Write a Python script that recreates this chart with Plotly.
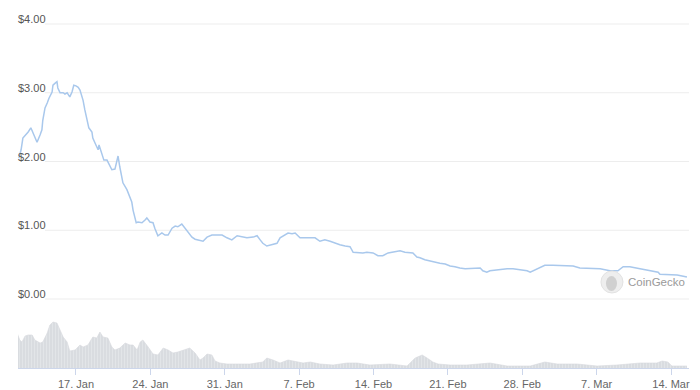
import plotly.graph_objects as go

price_dates = [
    "2022-01-11 15:00", "2022-01-11 20:00", "2022-01-12 00:00", "2022-01-12 07:00", "2022-01-12 12:00",
    "2022-01-12 18:00", "2022-01-12 23:00", "2022-01-13 08:00", "2022-01-13 15:00", "2022-01-13 19:00",
    "2022-01-13 21:00", "2022-01-14 02:00", "2022-01-14 07:00", "2022-01-14 11:00", "2022-01-14 18:00",
    "2022-01-14 20:00", "2022-01-15 01:00", "2022-01-15 05:00", "2022-01-15 07:00", "2022-01-15 12:00",
    "2022-01-15 19:00", "2022-01-15 23:00", "2022-01-16 04:00", "2022-01-16 10:00", "2022-01-16 15:00",
    "2022-01-16 19:00", "2022-01-17 00:00", "2022-01-17 05:00", "2022-01-17 09:00", "2022-01-17 16:00",
    "2022-01-17 20:00", "2022-01-18 01:00", "2022-01-18 05:00", "2022-01-18 12:00", "2022-01-18 14:00",
    "2022-01-18 21:00", "2022-01-19 02:00", "2022-01-19 04:00", "2022-01-19 11:00", "2022-01-19 15:00",
    "2022-01-19 22:00", "2022-01-20 03:00", "2022-01-20 09:00", "2022-01-20 16:00", "2022-01-20 21:00",
    "2022-01-20 23:00", "2022-01-21 03:00", "2022-01-21 08:00", "2022-01-21 10:00", "2022-01-21 19:00",
    "2022-01-22 02:00", "2022-01-22 06:00", "2022-01-22 09:00", "2022-01-22 13:00", "2022-01-22 16:00",
    "2022-01-22 20:00", "2022-01-23 05:00", "2022-01-23 12:00", "2022-01-23 16:00", "2022-01-23 23:00",
    "2022-01-24 06:00", "2022-01-24 10:00", "2022-01-24 17:00", "2022-01-25 02:00", "2022-01-25 09:00",
    "2022-01-25 16:00", "2022-01-26 01:00", "2022-01-26 08:00", "2022-01-26 14:00", "2022-01-26 23:00",
    "2022-01-27 06:00", "2022-01-27 13:00", "2022-01-27 22:00", "2022-01-28 05:00", "2022-01-28 12:00",
    "2022-01-28 23:00", "2022-01-29 08:00", "2022-01-29 19:00", "2022-01-30 07:00", "2022-01-30 18:00",
    "2022-01-31 05:00", "2022-01-31 16:00", "2022-02-01 04:00", "2022-02-01 15:00", "2022-02-02 02:00",
    "2022-02-02 16:00", "2022-02-03 01:00", "2022-02-03 08:00", "2022-02-03 14:00", "2022-02-03 23:00",
    "2022-02-04 11:00", "2022-02-04 22:00", "2022-02-05 05:00", "2022-02-05 16:00", "2022-02-05 23:00",
    "2022-02-06 08:00", "2022-02-06 15:00", "2022-02-07 02:00", "2022-02-07 13:00", "2022-02-08 01:00",
    "2022-02-08 12:00", "2022-02-08 23:00", "2022-02-09 10:00", "2022-02-09 22:00", "2022-02-10 09:00",
    "2022-02-10 20:00", "2022-02-11 08:00", "2022-02-11 19:00", "2022-02-12 02:00", "2022-02-12 13:00",
    "2022-02-13 00:00", "2022-02-13 09:00", "2022-02-13 23:00", "2022-02-14 10:00", "2022-02-14 21:00",
    "2022-02-15 09:00", "2022-02-15 20:00", "2022-02-16 12:00", "2022-02-16 23:00", "2022-02-17 10:00",
    "2022-02-17 17:00", "2022-02-18 02:00", "2022-02-18 09:00", "2022-02-18 20:00", "2022-02-19 08:00",
    "2022-02-19 19:00", "2022-02-20 06:00", "2022-02-20 18:00", "2022-02-21 05:00", "2022-02-21 16:00",
    "2022-02-22 03:00", "2022-02-22 15:00", "2022-02-23 02:00", "2022-02-23 13:00", "2022-02-24 01:00",
    "2022-02-24 07:00", "2022-02-24 16:00", "2022-02-24 23:00", "2022-02-25 10:00", "2022-02-25 22:00",
    "2022-02-26 14:00", "2022-02-27 03:00", "2022-02-27 19:00", "2022-02-28 11:00", "2022-02-28 18:00",
    "2022-03-01 09:00", "2022-03-02 03:00", "2022-03-02 21:00", "2022-03-03 20:00", "2022-03-04 19:00",
    "2022-03-05 10:00", "2022-03-06 09:00", "2022-03-07 08:00", "2022-03-08 06:00", "2022-03-09 00:00",
    "2022-03-09 12:00", "2022-03-10 03:00", "2022-03-11 02:00", "2022-03-12 01:00", "2022-03-12 19:00",
    "2022-03-12 23:00", "2022-03-13 15:00", "2022-03-14 14:00", "2022-03-15 12:00",
]
price_values = [
    2.05, 2.17, 2.34, 2.39, 2.43,
    2.49, 2.41, 2.28, 2.39, 2.46,
    2.60, 2.78, 2.85, 2.92, 3.01,
    3.11, 3.14, 3.16, 3.07, 3.00,
    3.00, 2.98, 3.00, 2.94, 3.01,
    3.11, 3.10, 3.08, 3.04, 2.89,
    2.75, 2.60, 2.49, 2.43, 2.34,
    2.24, 2.17, 2.24, 2.12, 2.02,
    2.02, 1.95, 1.88, 1.89, 2.05,
    2.08, 1.92, 1.76, 1.69, 1.59,
    1.48, 1.41, 1.29, 1.18, 1.11,
    1.12, 1.11, 1.15, 1.18, 1.12,
    1.11, 1.03, 0.92, 0.96, 0.93,
    0.93, 1.03, 1.06, 1.05, 1.09,
    1.03, 0.96, 0.90, 0.87, 0.86,
    0.84, 0.90, 0.93, 0.93, 0.93,
    0.89, 0.86, 0.92, 0.90, 0.89,
    0.90, 0.92, 0.86, 0.81, 0.77,
    0.79, 0.81, 0.89, 0.93, 0.96,
    0.95, 0.96, 0.89, 0.89, 0.90,
    0.89, 0.84, 0.86, 0.84, 0.81,
    0.79, 0.77, 0.76, 0.68, 0.67,
    0.67, 0.68, 0.67, 0.63, 0.63,
    0.67, 0.68, 0.70, 0.68, 0.68,
    0.67, 0.61, 0.60, 0.57, 0.55,
    0.54, 0.52, 0.51, 0.48, 0.47,
    0.45, 0.44, 0.44, 0.45, 0.45,
    0.41, 0.39, 0.41, 0.42, 0.42,
    0.44, 0.44, 0.42, 0.41, 0.39,
    0.44, 0.49, 0.49, 0.48, 0.48,
    0.45, 0.45, 0.44, 0.41, 0.41,
    0.47, 0.47, 0.44, 0.41, 0.39,
    0.36, 0.36, 0.35, 0.32,
]

volume_dates = [
    "2022-01-11 11:00", "2022-01-11 17:00", "2022-01-11 22:00", "2022-01-12 05:00", "2022-01-12 12:00",
    "2022-01-12 21:00", "2022-01-13 03:00", "2022-01-13 15:00", "2022-01-13 21:00", "2022-01-14 07:00",
    "2022-01-14 13:00", "2022-01-14 20:00", "2022-01-15 05:00", "2022-01-15 12:00", "2022-01-15 19:00",
    "2022-01-16 04:00", "2022-01-16 10:00", "2022-01-16 22:00", "2022-01-17 09:00", "2022-01-17 16:00",
    "2022-01-18 03:00", "2022-01-18 14:00", "2022-01-18 23:00", "2022-01-19 06:00", "2022-01-19 13:00",
    "2022-01-20 00:00", "2022-01-20 09:00", "2022-01-20 16:00", "2022-01-21 03:00", "2022-01-21 15:00",
    "2022-01-22 02:00", "2022-01-22 09:00", "2022-01-22 18:00", "2022-01-23 01:00", "2022-01-23 07:00",
    "2022-01-23 19:00", "2022-01-24 06:00", "2022-01-24 17:00", "2022-01-25 05:00", "2022-01-25 16:00",
    "2022-01-26 03:00", "2022-01-26 14:00", "2022-01-27 02:00", "2022-01-27 17:00", "2022-01-28 05:00",
    "2022-01-28 16:00", "2022-01-28 23:00", "2022-01-29 08:00", "2022-01-29 19:00", "2022-01-30 02:00",
    "2022-01-30 13:00", "2022-01-31 05:00", "2022-01-31 19:00", "2022-02-02 09:00", "2022-02-03 14:00",
    "2022-02-03 23:00", "2022-02-04 13:00", "2022-02-05 05:00", "2022-02-05 23:00", "2022-02-06 19:00",
    "2022-02-07 09:00", "2022-02-08 01:00", "2022-02-08 23:00", "2022-02-10 05:00", "2022-02-11 12:00",
    "2022-02-12 11:00", "2022-02-13 16:00", "2022-02-15 13:00", "2022-02-17 04:00", "2022-02-17 22:00",
    "2022-02-18 14:00", "2022-02-19 01:00", "2022-02-19 14:00", "2022-02-20 02:00", "2022-02-21 05:00",
    "2022-02-22 19:00", "2022-02-24 23:00", "2022-02-26 14:00", "2022-02-28 18:00", "2022-03-02 03:00",
    "2022-03-03 07:00", "2022-03-05 04:00", "2022-03-07 01:00", "2022-03-08 22:00", "2022-03-11 02:00",
    "2022-03-12 16:00", "2022-03-13 04:00", "2022-03-13 17:00", "2022-03-14 02:00", "2022-03-15 12:00",
]
volume_values = [
    35, 28, 26, 32, 33,
    33, 28, 25, 26, 35,
    43, 46, 45, 38, 31,
    26, 17, 18, 23, 21,
    23, 31, 30, 36, 31,
    30, 21, 18, 20, 25,
    23, 23, 18, 26, 28,
    21, 14, 13, 20, 18,
    15, 16, 18, 20, 15,
    8, 10, 14, 13, 7,
    5, 4, 4, 4, 6,
    10, 8, 5, 8, 6,
    5, 6, 4, 3, 5,
    5, 3, 4, 2, 10,
    13, 10, 6, 4, 3,
    3, 5, 2, 2, 6,
    4, 4, 2, 3, 5,
    5, 7, 6, 2, 2,
]

price_ticks = [0, 1, 2, 3, 4]
price_tick_labels = ["$0.00", "$1.00", "$2.00", "$3.00", "$4.00"]
week_tick_start = "2022-01-17"
x_range = ["2022-01-11 13:00", "2022-03-15 16:40"]

FONT = "Liberation Sans, Arial, Helvetica, sans-serif"

fig = go.Figure()

fig.add_trace(go.Scatter(
    x=volume_dates, y=volume_values, yaxis="y2", mode="lines",
    line=dict(width=0.6, color="#d6d9de"),
    fill="tozeroy", fillcolor="#dadde1",
    fillpattern=dict(shape="|", bgcolor="#d9dce0", fgcolor="#eef0f2", size=3, solidity=0.3),
    hoverinfo="skip", showlegend=False,
))

fig.add_trace(go.Scatter(
    x=price_dates, y=price_values, yaxis="y", mode="lines",
    line=dict(color="#a9c8ec", width=1.5),
    hoverinfo="skip", showlegend=False,
))

shapes = []
for v in price_ticks:
    shapes.append(dict(type="line", xref="paper", yref="y", x0=0.0402, x1=1, y0=v, y1=v,
                       line=dict(color="#ededed", width=1), layer="below"))

# CoinGecko watermark
wm_x, wm_y = 0.8852, 0.2423
shapes.append(dict(type="circle", xref="paper", yref="paper", xsizemode="pixel", ysizemode="pixel",
                   xanchor=wm_x, yanchor=wm_y, x0=-11, x1=11, y0=-11, y1=11,
                   fillcolor="#eeeeee", line=dict(color="#e2e2e2", width=1), layer="above"))
shapes.append(dict(type="circle", xref="paper", yref="paper", xsizemode="pixel", ysizemode="pixel",
                   xanchor=wm_x, yanchor=wm_y, x0=-6, x1=5, y0=-9, y1=6,
                   fillcolor="#d0d0d0", line=dict(width=0), layer="above"))

fig.update_layout(
    width=692, height=382,
    margin=dict(l=10, r=11, t=5, b=22, autoexpand=False),
    paper_bgcolor="white", plot_bgcolor="white",
    font=dict(family=FONT, size=11, color="#666666"),
    xaxis=dict(
        type="date", range=x_range, anchor="y2", automargin=False,
        tick0=week_tick_start, dtick=7 * 86400000, tickformat="%-d. %b",
        ticks="outside", ticklen=6, tickcolor="#ccd6eb", tickwidth=1,
        showline=True, linecolor="#ccd6eb", linewidth=1,
        showgrid=False, zeroline=False,
        tickfont=dict(family=FONT, size=11, color="#666666"),
    ),
    yaxis=dict(
        domain=[0.17746, 1], range=[-0.0873, 4.16], automargin=False,
        tickvals=price_ticks, ticktext=price_tick_labels,
        ticklabelposition="inside top", ticks="",
        ticklabelstandoff=-3, ticklabelshift=3,
        showgrid=False, zeroline=False, showline=False,
        tickfont=dict(family=FONT, size=11, color="#555555"),
    ),
    yaxis2=dict(domain=[0, 0.16338], range=[0, 58], visible=False),
    shapes=shapes,
    annotations=[dict(text="CoinGecko", xref="paper", yref="paper", x=0.9061, y=wm_y,
                      xanchor="left", yanchor="middle", showarrow=False,
                      font=dict(family=FONT, size=11.5, color="#9a9a9a"))],
    hovermode=False,
)

fig.write_html("out.html")
